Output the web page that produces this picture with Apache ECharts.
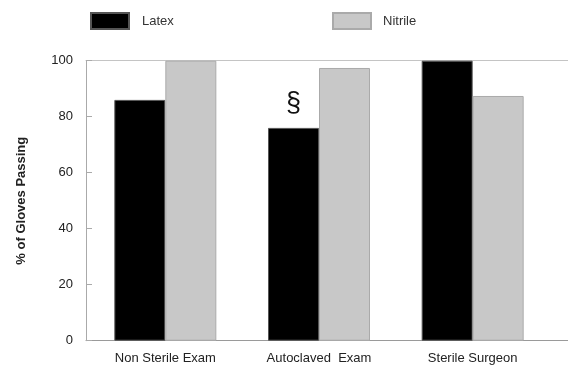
<!DOCTYPE html>
<html>
<head>
<meta charset="utf-8">
<script src="https://cdn.jsdelivr.net/npm/echarts@6/dist/echarts.min.js"></script>
<style>html,body{margin:0;padding:0;background:#fff}#c{width:568px;height:371px}</style>
</head>
<body>
<div id="c"></div>
<script>
var categories = ['Non Sterile Exam', 'Autoclaved  Exam', 'Sterile Surgeon'];
var latexValues = [86, 76, 100];
var nitrileValues = [100, 97.4, 87.4];
var latexMarks = ['', '§', ''];
var yTicks = [0, 20, 40, 60, 80, 100];

var FONT = '"Liberation Sans", Arial, sans-serif';
var chart = echarts.init(document.getElementById('c'), null, {renderer: 'canvas'});

var latexData = latexValues.map(function (v, i) {
  var item = {value: v};
  if (latexMarks[i]) {
    item.label = {show: true, position: 'top', formatter: latexMarks[i], fontSize: 27,
      fontFamily: FONT, color: '#111', distance: 11};
  }
  return item;
});

chart.setOption({
  animation: false,
  textStyle: {fontFamily: FONT},
  legend: [
    {data: ['Latex'], left: 85, top: 7, itemWidth: 38, itemHeight: 16, itemGap: 0,
     icon: 'rect', textStyle: {fontSize: 13, color: '#333', fontFamily: FONT, padding: [0, 0, 0, 8]}},
    {data: ['Nitrile'], left: 327, top: 7, itemWidth: 38, itemHeight: 16, itemGap: 0,
     icon: 'rect', textStyle: {fontSize: 13, color: '#333', fontFamily: FONT, padding: [0, 0, 0, 7]}}
  ],
  grid: [
    {left: 88.5, right: 18.5, top: 60.7, bottom: 30.3},
    {left: 86, right: 0, top: 60.7, bottom: 30.3}
  ],
  xAxis: [
    {type: 'category', gridIndex: 0, data: categories, boundaryGap: true,
     axisLine: {show: false}, axisTick: {show: false},
     axisLabel: {fontSize: 13, color: '#222', fontFamily: FONT, margin: 11}},
    {type: 'value', gridIndex: 1, min: 0, max: 1, position: 'bottom',
     axisLine: {show: true, lineStyle: {color: '#9a9a9a', width: 1}},
     axisTick: {show: false}, axisLabel: {show: false}, splitLine: {show: false}},
    {type: 'value', gridIndex: 1, min: 0, max: 1, position: 'top',
     axisLine: {show: true, lineStyle: {color: '#c4c4c4', width: 1}},
     axisTick: {show: false}, axisLabel: {show: false}, splitLine: {show: false}}
  ],
  yAxis: [
    {type: 'value', gridIndex: 0, min: 0, max: 100, show: false},
    {type: 'value', gridIndex: 1, min: yTicks[0], max: yTicks[yTicks.length - 1], interval: 20,
     name: '% of Gloves Passing', nameLocation: 'middle', nameGap: 58, nameRotate: 90,
     nameTextStyle: {fontSize: 13, fontWeight: 'bold', color: '#222', fontFamily: FONT},
     axisLine: {show: true, lineStyle: {color: '#aaaaaa', width: 1}},
     axisTick: {show: true, inside: true, length: 6, lineStyle: {color: '#aaaaaa'}},
     axisLabel: {fontSize: 13, color: '#222', fontFamily: FONT, margin: 13},
     splitLine: {show: false}}
  ],
  series: [
    {name: 'Latex', type: 'bar', xAxisIndex: 0, yAxisIndex: 0, data: latexData,
     barWidth: 51, barGap: '0%',
     itemStyle: {color: '#000000', borderColor: '#555555', borderWidth: 1}},
    {name: 'Nitrile', type: 'bar', xAxisIndex: 0, yAxisIndex: 0, data: nitrileValues,
     barWidth: 51, barGap: '0%',
     itemStyle: {color: '#c8c8c8', borderColor: '#aaaaaa', borderWidth: 1}}
  ]
});
</script>
</body>
</html>
